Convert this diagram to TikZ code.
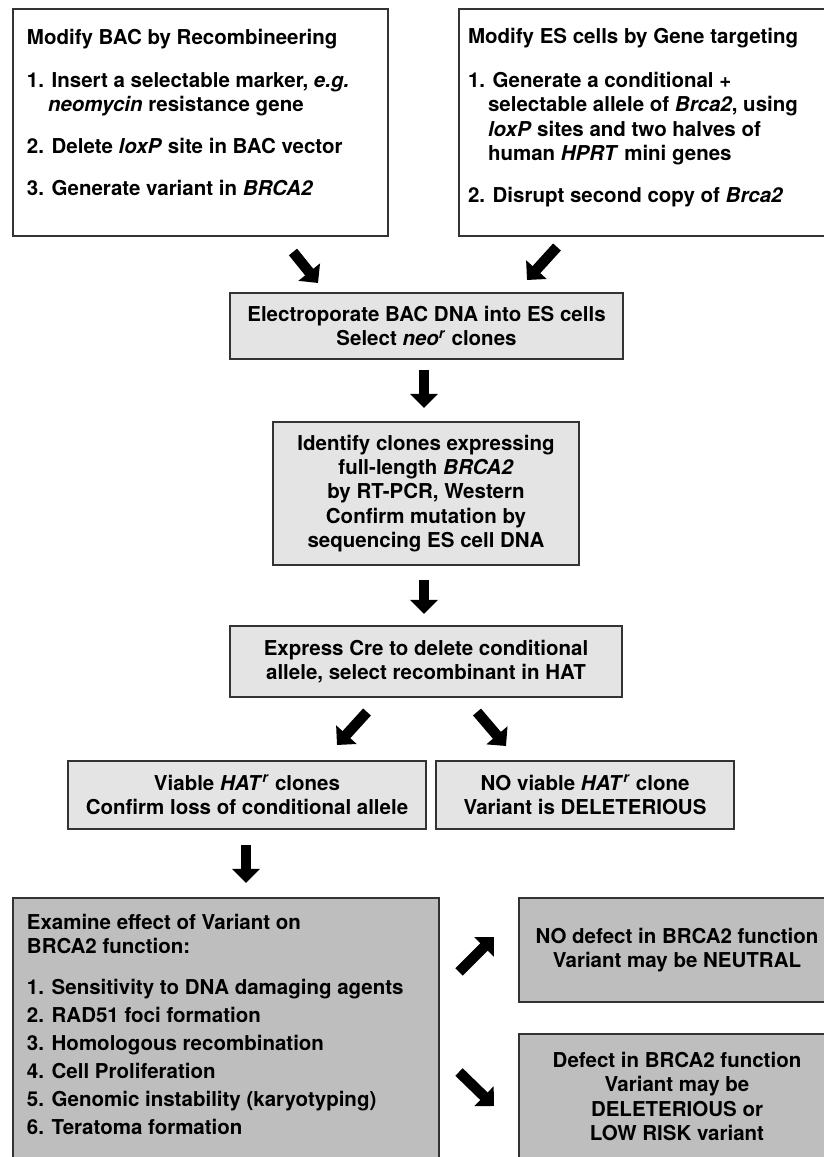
\documentclass[tikz,border=0pt]{standalone}
\usepackage{fontspec}
\setmainfont{TeX Gyre Heros}
\usetikzlibrary{arrows.meta}
\newcommand{\boxfont}{\bfseries\fontsize{20.5}{24.3}\selectfont}
\begin{document}
\begin{tikzpicture}[x=1pt,y=1pt,
  box/.style={draw=lineColor,line width=1.6pt,inner sep=0pt,outer sep=0pt,anchor=north west},
  whitebox/.style={box,fill=white},
  lightbox/.style={box,fill=lightColor,align=center,font=\boxfont},
  darkbox/.style={box,fill=darkColor,align=center,font=\boxfont},
  listtext/.style={inner sep=0pt,outer sep=0pt,anchor=north west,align=left,font=\boxfont},
  bigarrow/.style={line width=10.5pt,-{Triangle[width=27pt,length=14pt]}}]
\definecolor{lineColor}{RGB}{51,51,51}
\definecolor{lightColor}{RGB}{228,228,228}
\definecolor{darkColor}{RGB}{190,190,190}
\useasboundingbox (0,0) rectangle (824,1157);
\clip (0,0) rectangle (824,1157);

\node[whitebox,minimum width=375pt,minimum height=227pt] (bac) at ( 13,1148) {};
\node[listtext] (bactext) at ( 27,1127.8) {Modify BAC by Recombineering\\[18.7pt]
1. Insert a selectable marker, \textit{e.g.}\\
\hspace*{21pt}\textit{neomycin} resistance gene\\[17.7pt]
2. Delete \textit{loxP} site in BAC vector\\[17.7pt]
3. Generate variant in \textit{BRCA2}};

\node[whitebox,minimum width=381pt,minimum height=227pt] (es) at (459,1148) {};
\node[listtext] (estext) at (468,1128.8) {Modify ES cells by Gene targeting\\[19.7pt]
1. Generate a conditional +\\
\hspace*{20pt}selectable allele of \textit{Brca2}, using\\
\hspace*{20pt}\textit{loxP} sites and two halves of\\
\hspace*{20pt}human \textit{HPRT} mini genes\\[17.7pt]
2. Disrupt second copy of \textit{Brca2}};

\node[lightbox,minimum width=393pt,minimum height=66pt] (elec) at (230, 864) {Electroporate BAC DNA into ES cells\\Select \textit{neo}\textsuperscript{\textit{r}} clones};
\node[lightbox,minimum width=306pt,minimum height=143pt] (ident) at (273, 735) {Identify clones expressing\\full-length \textit{BRCA2}\\by RT-PCR, Western\\Confirm mutation by\\sequencing ES cell DNA};
\node[lightbox,minimum width=392pt,minimum height=71pt] (cre) at (230, 531) {Express Cre to delete conditional\\allele, select recombinant in HAT};
\node[lightbox,minimum width=358pt,minimum height=68pt] (viable) at ( 68, 396) {Viable \textit{HAT}\textsuperscript{\textit{r}} clones\\Confirm loss of conditional allele};
\node[lightbox,minimum width=298pt,minimum height=68pt] (noviable) at (436, 396) {NO viable \textit{HAT}\textsuperscript{\textit{r}} clone\\Variant is DELETERIOUS};

\node[darkbox,minimum width=426pt,minimum height=290pt] (examine) at ( 13, 259) {};
\node[listtext] (examtext) at ( 27, 242.8) {Examine effect of Variant on\\BRCA2 function:\\[16.7pt]
1. Sensitivity to DNA damaging agents\\[3.7pt]
2. RAD51 foci formation\\[3.7pt]
3. Homologous recombination\\[3.7pt]
4. Cell Proliferation\\[3.7pt]
5. Genomic instability (karyotyping)\\[3.7pt]
6. Teratoma formation};
\node[darkbox,minimum width=316pt,minimum height=104pt] (neutral) at (519, 259) {NO defect in BRCA2 function\\Variant may be NEUTRAL};
\node[darkbox,minimum width=316pt,minimum height=125pt] (defect) at (519, 123) {Defect in BRCA2 function\\Variant may be\\DELETERIOUS or\\LOW RISK variant};

\coordinate (bacout) at (293,905);
\coordinate (elecinl) at (318,874);
\coordinate (esout) at (557,910);
\coordinate (elecinr) at (527,877);
\coordinate (elecout) at (424,787);
\coordinate (identin) at (424,749);
\coordinate (identout) at (424,577);
\coordinate (crein) at (424,543);
\coordinate (creoutl) at (367,445);
\coordinate (viablein) at (337,412);
\coordinate (creoutr) at (477,445);
\coordinate (noviablein) at (506,411);
\coordinate (viableout) at (246,312);
\coordinate (examin) at (246,274);
\coordinate (examoutu) at (459,185);
\coordinate (neutralin) at (494,220);
\coordinate (examoutd) at (459, 85);
\coordinate (defectin) at (494, 51);

\draw[bigarrow] (bacout) -- (elecinl);
\draw[bigarrow] (esout) -- (elecinr);
\draw[bigarrow] (elecout) -- (identin);
\draw[bigarrow] (identout) -- (crein);
\draw[bigarrow] (creoutl) -- (viablein);
\draw[bigarrow] (creoutr) -- (noviablein);
\draw[bigarrow] (viableout) -- (examin);
\draw[bigarrow] (examoutu) -- (neutralin);
\draw[bigarrow] (examoutd) -- (defectin);
\end{tikzpicture}
\end{document}
